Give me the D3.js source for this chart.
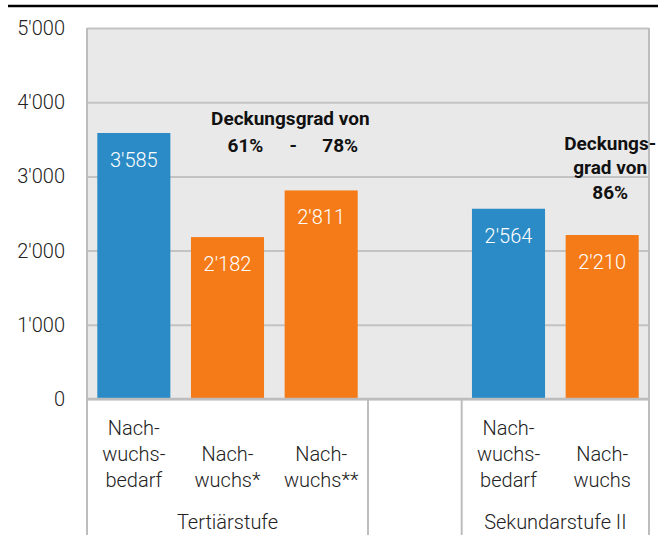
<!DOCTYPE html>
<html>
<head>
<meta charset="utf-8">
<script src="https://cdn.jsdelivr.net/npm/d3@7"></script>
<style>
  html, body { margin: 0; padding: 0; background: #fff; }
  svg { display: block; font-family: Roboto, "Noto Sans", sans-serif; }
</style>
</head>
<body>
<svg id="chart" width="668" height="541"></svg>
<script>
// ---- data ----
const categories = ["T_bedarf", "T_nachwuchs1", "T_nachwuchs2", "gap", "S_bedarf", "S_nachwuchs"];
const categoryLabels = [
  ["Nach-", "wuchs-", "bedarf"],
  ["Nach-", "wuchs*"],
  ["Nach-", "wuchs**"],
  [],
  ["Nach-", "wuchs-", "bedarf"],
  ["Nach-", "wuchs"]
];
const values = [3585, 2182, 2811, null, 2564, 2210];
const seriesType = ["bedarf", "nachwuchs", "nachwuchs", null, "bedarf", "nachwuchs"];
const groupNames = ["Tertiärstufe", "Sekundarstufe II"];
const groupFirst = ["T_bedarf", "S_bedarf"];
const groupLast = ["T_nachwuchs2", "S_nachwuchs"];
const yTicks = [0, 1000, 2000, 3000, 4000, 5000];
const annotation1 = ["Deckungsgrad von", "61%", "-", "78%"];
const annotation2 = ["Deckungs-", "grad von", "86%"];

// ---- layout ----
const svg = d3.select("#chart");
const L = 87, R = 649, T = 28, B = 399, bottomEnd = 535;
const colors = { bedarf: "#2b8bc6", nachwuchs: "#f47b18" };
const gridColor = "#c3c3c3";
const fs = "20px";

const x = d3.scaleBand().domain(categories).range([L, R]).paddingInner(0.22).paddingOuter(0.11);
const y = d3.scaleLinear().domain([0, 5000]).range([B, T]);
const loc = d3.formatLocale({ decimal: ".", thousands: "'", grouping: [3], currency: ["", ""] });
const fmt = loc.format(",d");

// top black rule
svg.append("line").attr("x1", 8).attr("x2", 658).attr("y1", 6).attr("y2", 6)
  .attr("stroke", "#000").attr("stroke-width", 2.5);

// plot background
svg.append("rect").attr("x", L).attr("y", T).attr("width", R - L).attr("height", B - T)
  .attr("fill", "#e9e9e9");

// y axis with gridlines
const yAxis = d3.axisLeft(y).tickValues(yTicks).tickFormat(fmt).tickSize(-(R - L)).tickPadding(22);
const yg = svg.append("g").attr("transform", `translate(${L},0)`).call(yAxis);
yg.select(".domain").remove();
yg.selectAll(".tick line").attr("stroke", gridColor).attr("stroke-width", 2);
yg.selectAll(".tick text").attr("fill", "#222").style("font-size", fs).style("font-weight", 300)
  .attr("font-family", "Roboto, sans-serif");

// bars
const idx = d3.range(categories.length).filter(i => values[i] != null);
svg.append("g").selectAll("rect").data(idx).join("rect")
  .attr("x", i => x(categories[i]))
  .attr("width", x.bandwidth())
  .attr("y", i => y(values[i]))
  .attr("height", i => y(0) - y(values[i]))
  .attr("fill", i => colors[seriesType[i]]);

// value labels
svg.append("g").selectAll("text").data(idx).join("text")
  .attr("x", i => x(categories[i]) + x.bandwidth() / 2)
  .attr("y", i => y(values[i]) + 27)
  .attr("dy", "0.35em")
  .attr("text-anchor", "middle")
  .attr("fill", "#fff")
  .style("font-size", fs).style("font-weight", 300)
  .text(i => fmt(values[i]));

// baseline
svg.append("line").attr("x1", L).attr("x2", R).attr("y1", B).attr("y2", B)
  .attr("stroke", "#bdbdbd").attr("stroke-width", 2.5);

// borders and separators
const step = x.step();
const sepXs = [L, R];
groupFirst.forEach(c => sepXs.push(x(c) - x.paddingInner() * step / 2));
groupLast.forEach(c => sepXs.push(x(c) + x.bandwidth() + x.paddingInner() * step / 2));
const uniqSep = Array.from(new Set(sepXs.map(v => Math.round(v * 10) / 10)));
svg.append("g").selectAll("line").data(uniqSep).join("line")
  .attr("x1", d => d).attr("x2", d => d)
  .attr("y1", d => (d === L || d === R) ? T : B)
  .attr("y2", bottomEnd)
  .attr("stroke", "#bdbdbd").attr("stroke-width", 2);

// category labels (bottom aligned)
const lineH = 26, lastLineY = 480;
categories.forEach((c, i) => {
  const lines = categoryLabels[i];
  const cx = x(c) + x.bandwidth() / 2;
  lines.forEach((t, k) => {
    svg.append("text")
      .attr("x", cx)
      .attr("y", lastLineY - (lines.length - 1 - k) * lineH)
      .attr("dy", "0.35em")
      .attr("text-anchor", "middle")
      .attr("fill", "#222")
      .style("font-size", fs).style("font-weight", 300)
      .text(t);
  });
});

// group labels
groupNames.forEach((g, i) => {
  const x0 = x(groupFirst[i]);
  const x1 = x(groupLast[i]) + x.bandwidth();
  svg.append("text")
    .attr("x", (x0 + x1) / 2)
    .attr("y", 522)
    .attr("dy", "0.35em")
    .attr("text-anchor", "middle")
    .attr("fill", "#222")
    .style("font-size", fs).style("font-weight", 300)
    .text(g);
});

// annotations
const annStyle = sel => sel.attr("fill", "#111").style("font-size", "19px").style("font-weight", 700)
  .attr("dy", "0.35em").attr("text-anchor", "middle");
const midT = (x(categories[1]) + x(categories[2]) + x.bandwidth()) / 2;
svg.append("text").attr("x", midT + 16).attr("y", 118).call(annStyle).text(annotation1[0]);
svg.append("text").attr("x", x(categories[1]) + x.bandwidth() / 2 + 18).attr("y", 145).call(annStyle).text(annotation1[1]);
svg.append("text").attr("x", midT + 19).attr("y", 145).call(annStyle).text(annotation1[2]);
svg.append("text").attr("x", x(categories[2]) + x.bandwidth() / 2 + 19).attr("y", 145).call(annStyle).text(annotation1[3]);

const cx2 = x(categories[5]) + x.bandwidth() / 2 + 8;
annotation2.forEach((t, k) => {
  svg.append("text").attr("x", cx2).attr("y", 143 + k * 24.5).call(annStyle).text(t);
});
</script>
</body>
</html>
